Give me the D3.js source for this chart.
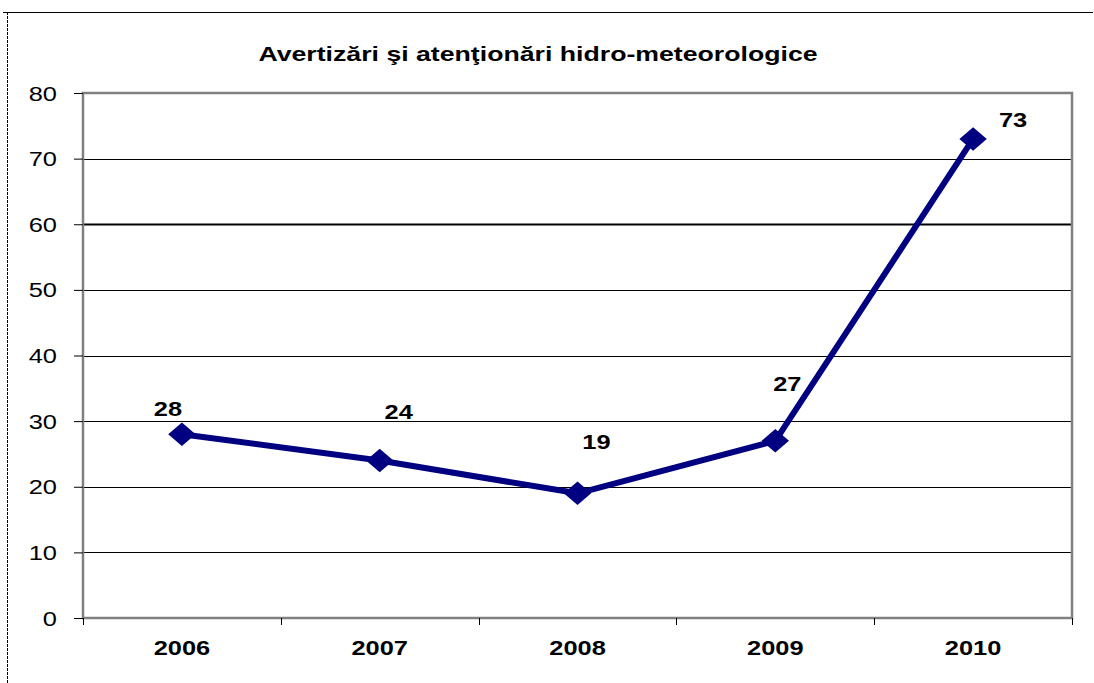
<!DOCTYPE html>
<html>
<head>
<meta charset="utf-8">
<script src="https://cdn.jsdelivr.net/npm/d3@7"></script>
<style>
body { margin: 0; background: #fff; }
svg { display: block; font-family: "Liberation Sans", Arial, sans-serif; }
</style>
</head>
<body>
<svg id="chart" width="1094" height="683"></svg>
<script>
var years = ["2006", "2007", "2008", "2009", "2010"];
var values = [28, 24, 19, 27, 73];
var yTicks = [0, 10, 20, 30, 40, 50, 60, 70, 80];
var title = "Avertizări şi atenţionări hidro-meteorologice";

// label offsets (dx, dy) from each point, as placed in the original
var labelOff = [[-14, -18], [19, -42], [19, -44], [12, -50], [40, -12]];

var svg = d3.select("#chart");
var pLeft = 83, pTop = 93, pRight = 1072, pBottom = 618;
var stretch = 1.27; // the original text is stretched sideways

function place(x, y){ return "translate(" + x + "," + y + ") scale(" + stretch + ",1)"; }

// outer frame bits
svg.append("line").attr("x1", 3).attr("x2", 1093).attr("y1", 12.5).attr("y2", 12.5)
	.attr("stroke", "#000").attr("stroke-width", 1);
svg.append("line").attr("x1", 7.5).attr("x2", 7.5).attr("y1", 12).attr("y2", 683)
	.attr("stroke", "#000").attr("stroke-width", 1).attr("stroke-dasharray", "3,1");

svg.append("text").attr("transform", place(538, 61)).attr("text-anchor", "middle")
	.attr("font-size", 21).attr("font-weight", "bold").text(title);

var x = d3.scaleBand().domain(years).range([pLeft, pRight]);
var y = d3.scaleLinear().domain([0, 80]).range([pBottom, pTop]);

// gridlines
svg.append("g").selectAll("line").data(yTicks.slice(1, -1)).enter().append("line")
	.attr("x1", pLeft).attr("x2", pRight)
	.attr("y1", function(d){return Math.round(y(d)) + 0.5;})
	.attr("y2", function(d){return Math.round(y(d)) + 0.5;})
	.attr("stroke", "#000")
	.attr("stroke-width", function(d){return d == 60 ? 2 : 1;});

// plot border
svg.append("rect").attr("x", pLeft).attr("y", pTop).attr("width", pRight - pLeft).attr("height", pBottom - pTop)
	.attr("fill", "none").attr("stroke", "#808080").attr("stroke-width", 2.5);

// y axis
var yAxis = svg.append("g").attr("transform", "translate(" + pLeft + ",0)")
	.call(d3.axisLeft(y).tickValues(yTicks).tickSize(9).tickPadding(14));
yAxis.select(".domain").remove();
yAxis.selectAll("line").attr("stroke", "#000");
yAxis.selectAll("text").attr("x", null).attr("dy", null)
	.attr("transform", place(-26, 7))
	.attr("font-size", 20).attr("fill", "#000")
	.attr("font-family", "'Liberation Sans', Arial, sans-serif");

// x axis: ticks at category boundaries
var bounds = years.map(function(d){return x(d);}).concat([pRight]);
svg.append("g").selectAll("line").data(bounds).enter().append("line")
	.attr("x1", function(d){return Math.round(d) + 0.5;})
	.attr("x2", function(d){return Math.round(d) + 0.5;})
	.attr("y1", pBottom).attr("y2", pBottom + 7).attr("stroke", "#000");
svg.append("g").selectAll("text").data(years).enter().append("text")
	.attr("transform", function(d){return place(x(d) + x.bandwidth() / 2, 655);})
	.attr("text-anchor", "middle")
	.attr("font-size", 20).attr("font-weight", "bold").text(function(d){return d;});

// series
var pts = years.map(function(d, i){return [x(d) + x.bandwidth() / 2, y(values[i])];});
svg.append("path").attr("d", d3.line()(pts))
	.attr("fill", "none").attr("stroke", "#000080").attr("stroke-width", 6)
	.attr("stroke-linejoin", "round");

svg.append("g").selectAll("path").data(pts).enter().append("path")
	.attr("d", d3.symbol().type(d3.symbolDiamond).size(190))
	.attr("transform", function(d){return "translate(" + d[0] + "," + d[1] + ") scale(1.85,0.92)";})
	.attr("fill", "#000080");

svg.append("g").selectAll("text").data(values).enter().append("text")
	.attr("transform", function(d, i){return place(pts[i][0] + labelOff[i][0], pts[i][1] + labelOff[i][1]);})
	.attr("text-anchor", "middle").attr("font-size", 20).attr("font-weight", "bold")
	.text(function(d){return d;});
</script>
</body>
</html>
